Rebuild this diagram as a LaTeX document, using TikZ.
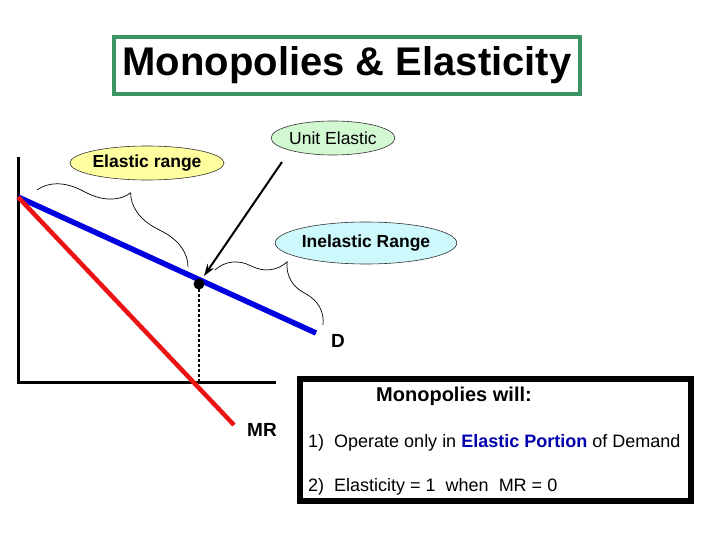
\documentclass[tikz,border=0pt]{standalone}
\usepackage{fontspec}
\setmainfont{Liberation Sans}
\usetikzlibrary{arrows.meta,shapes.geometric,decorations.pathreplacing}
\definecolor{verdetit}{RGB}{58,148,100}
\definecolor{azul}{RGB}{0,0,225}
\definecolor{rojo}{RGB}{235,20,20}
\definecolor{azultxt}{RGB}{0,0,175}
\definecolor{amarillo}{RGB}{255,255,160}
\definecolor{verdeclaro}{RGB}{210,248,210}
\definecolor{celeste}{RGB}{205,248,252}
\newcommand{\tam}[1]{\fontsize{#1}{#1}\selectfont}
\tikzset{
  globo/.style={ellipse,draw=black!80,line width=0.6pt,inner sep=0pt},
  llave/.style={decorate,decoration={brace,amplitude=40pt},line width=0.7pt}
}

\begin{document}
\begin{tikzpicture}[x=1pt,y=-1pt,>={Stealth[length=12pt,width=8pt]}]
  \useasboundingbox (0,0) rectangle (720,540);
  \coordinate (O) at (18,382);
  \coordinate (Ytop) at (18,157);
  \coordinate (Xend) at (276,382);
  \coordinate (Dini) at (18,197);
  \coordinate (Dfin) at (316,333);
  \coordinate (MRfin) at (234,425);
  \coordinate (U) at (199,284);
  \coordinate (Ubase) at (199,382);
  % titulo
  \node[draw=verdetit,line width=4pt,minimum width=466pt,minimum height=57pt,inner sep=0pt]
    (titulo) at (347,65.5) {\tam{40}\bfseries Monopolies \& Elasticity};
  % ejes
  \draw[line width=3pt] (Ytop) -- (O) -- (Xend);
  % demanda e ingreso marginal
  \draw[line width=5.5pt,azul] (Dini) -- (Dfin);
  \draw[line width=4.5pt,rojo] (Dini) -- (MRfin);
  \draw[line width=1.4pt,dash pattern=on 3pt off 2pt] (U) -- (Ubase);
  \fill (U) circle (5.5pt);
  \node[font=\tam{19}\bfseries] (D) at (338,341) {D};
  \node[font=\tam{19}\bfseries] (MR) at (262,430) {MR};
  % globos
  \node[globo,fill=verdeclaro,minimum width=114pt,minimum height=34pt]
    (unit) at (333,138) {\tam{17.5}Unit Elastic};
  \node[globo,fill=amarillo,minimum width=126pt,minimum height=34pt]
    (elast) at (147,163) {\tam{17.5}\bfseries Elastic range};
  \node[globo,fill=celeste,minimum width=168pt,minimum height=42pt]
    (inelast) at (366,243) {\tam{17.5}\bfseries Inelastic Range};
  % llaves
  \coordinate (E1) at (37,190);
  \coordinate (E2) at (188,267);
  \coordinate (I1) at (215,270);
  \coordinate (I2) at (323,325);
  \draw[llave] (E1) -- (E2);
  \draw[llave] (I1) -- (I2);
  % flecha
  \coordinate (Aini) at (282,162);
  \coordinate (Afin) at (204,276);
  \draw[->,line width=2pt] (Aini) -- (Afin);
  % recuadro
  \node[draw,line width=6pt,minimum width=391pt,minimum height=122pt,inner sep=0pt]
    (caja) at (495.5,440) {};
  \node[anchor=base,font=\tam{20}\bfseries] (will) at (454,401) {Monopolies will:};
  \node[anchor=base west,inner sep=0pt,font=\tam{18}] (uno) at (308,447)
    {1)\ \ Operate only in \textcolor{azultxt}{\bfseries Elastic Portion} of Demand};
  \node[anchor=base west,inner sep=0pt,font=\tam{18}] (dos) at (308,491)
    {2)\ \ Elasticity = 1\ \ when\ \ MR = 0};
\end{tikzpicture}
\end{document}
